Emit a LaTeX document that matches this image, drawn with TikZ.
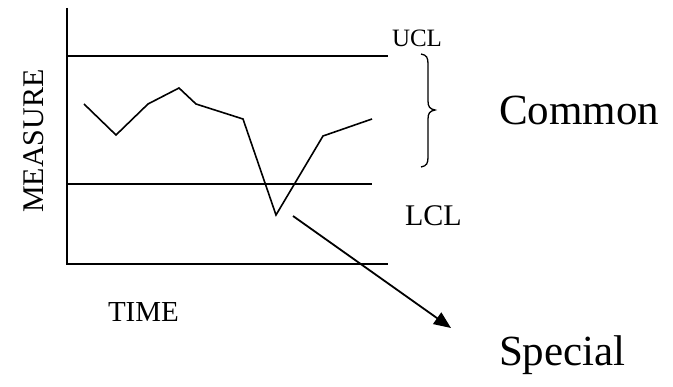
\documentclass[tikz,border=0pt]{standalone}
\usepackage{fontspec}
\setmainfont{Liberation Serif}
\usetikzlibrary{arrows.meta}
\begin{document}
\begin{tikzpicture}[x=1pt,y=-1pt,
  ln/.style={line width=1.8pt,black},
  thin/.style={line width=1.6pt,black,line join=miter},
  lbl/.style={anchor=base west,inner sep=0pt,outer sep=0pt}]
\useasboundingbox (0,0) rectangle (673,387);
% axes
\coordinate (top) at (67,8);
\coordinate (origin) at (67,264);
\coordinate (xend) at (388,264);
\draw[ln] (top) -- (origin) -- (xend);
% control limits
\coordinate (ucl0) at (67,56); \coordinate (ucl1) at (388,56);
\coordinate (lcl0) at (67,184); \coordinate (lcl1) at (372,184);
\draw[ln] (ucl0) -- (ucl1);
\draw[ln] (lcl0) -- (lcl1);
% data
\draw[thin] (84,104) -- (116,135) -- (148,104) -- (179,88) -- (196,104)
  -- (243,119) -- (276,215) -- (323,136) -- (372,119);
% arrow
\coordinate (a0) at (293,216);
\coordinate (a1) at (451,328);
\draw[ln,-{Triangle[length=17pt,width=14pt]}] (a0) -- (a1);
% brace
\draw[line width=1.3pt] (421,54) .. controls (427,55) and (428,58) .. (428,64)
  -- (428,101) .. controls (428,107) and (430,109) .. (435,110)
  .. controls (430,111) and (428,113) .. (428,119)
  -- (428,157) .. controls (428,163) and (427,166) .. (421,167);
% labels
\node[lbl] (ucl) at (392,47) {\fontsize{25}{30}\selectfont UCL};
\node[lbl] (lcl) at (405,226) {\fontsize{30}{36}\selectfont LCL};
\node[lbl] (common) at (499,125) {\fontsize{43}{50}\selectfont Common};
\node[lbl] (special) at (499,366) {\fontsize{43}{50}\selectfont Special};
\node[lbl] (time) at (108,322) {\fontsize{29}{34}\selectfont TIME};
\node[lbl,rotate=90] (measure) at (43,213) {\fontsize{30}{36}\selectfont MEASURE};
\end{tikzpicture}
\end{document}
